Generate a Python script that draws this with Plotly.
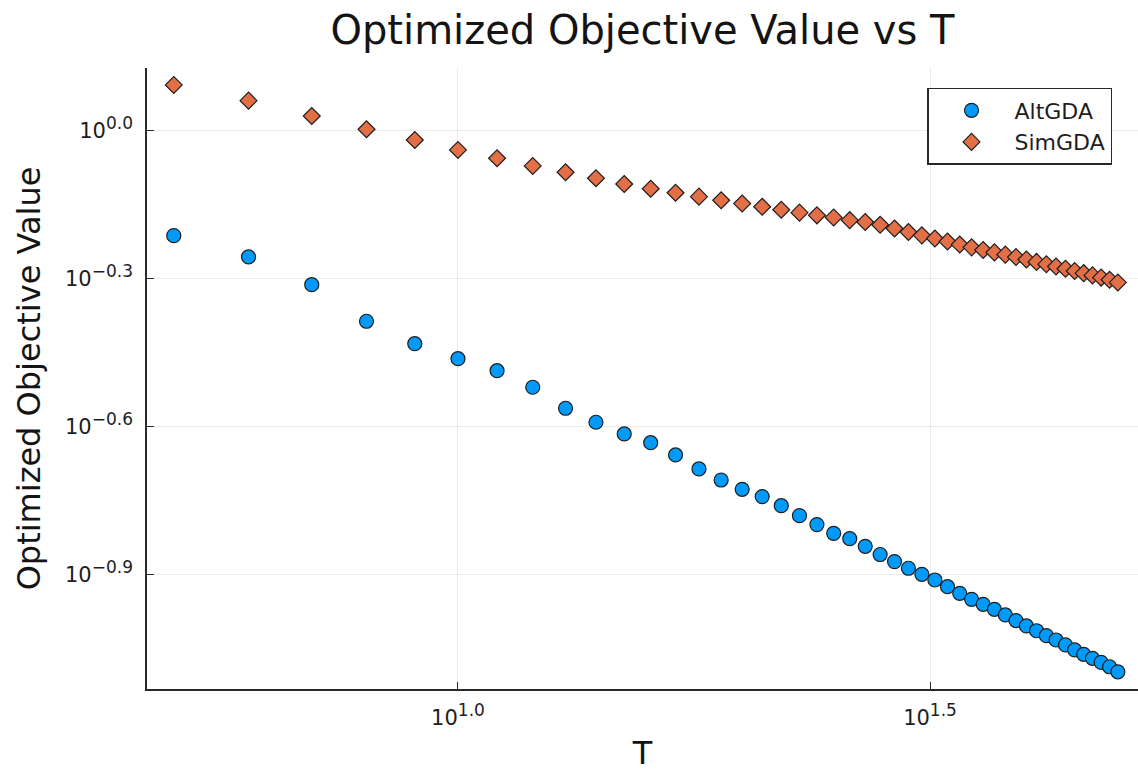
import plotly.graph_objects as go

T_values = list(range(5, 51))

altgda = [0.6126, 0.5546, 0.4873, 0.4108, 0.3700, 0.3450, 0.3262, 0.3019, 0.2737, 0.2564,
          0.2428, 0.2331, 0.2201, 0.2062, 0.1958, 0.1875, 0.1812, 0.1737, 0.1658, 0.1590,
          0.1527, 0.1489, 0.1437, 0.1383, 0.1338, 0.1297, 0.1261, 0.1228, 0.1190, 0.1154,
          0.1122, 0.1096, 0.1071, 0.1043, 0.1016, 0.0991, 0.0969, 0.0947, 0.0928, 0.0907,
          0.0886, 0.0868, 0.0852, 0.0836, 0.0819, 0.0800]

simgda = [1.2378, 1.1503, 1.0710, 1.0066, 0.9575, 0.9139, 0.8791, 0.8481, 0.8235, 0.8008,
          0.7797, 0.7624, 0.7483, 0.7349, 0.7226, 0.7116, 0.7010, 0.6913, 0.6820, 0.6735,
          0.6669, 0.6585, 0.6530, 0.6445, 0.6335, 0.6232, 0.6134, 0.6046, 0.5959, 0.5876,
          0.5800, 0.5730, 0.5666, 0.5606, 0.5543, 0.5481, 0.5420, 0.5362, 0.5305, 0.5249,
          0.5195, 0.5142, 0.5089, 0.5037, 0.4986, 0.4924]

x_tick_vals = [10 ** 1.0, 10 ** 1.5]
x_tick_exps = ["1.0", "1.5"]
y_tick_vals = [10 ** 0.0, 10 ** -0.3, 10 ** -0.6, 10 ** -0.9]
y_tick_exps = ["0.0", "\u22120.3", "\u22120.6", "\u22120.9"]


def power_label(exp):
    return "10<sup><span style='font-size:17px'>" + exp + "</span></sup>"


FONT = "DejaVu Sans"

fig = go.Figure()
fig.add_trace(go.Scatter(
    x=T_values, y=altgda, mode="markers", name="AltGDA",
    marker=dict(symbol="circle", size=14, color="rgb(0,154,250)",
                line=dict(color="rgb(30,30,30)", width=1.2)),
))
fig.add_trace(go.Scatter(
    x=T_values, y=simgda, mode="markers", name="SimGDA",
    marker=dict(symbol="diamond", size=13, color="rgb(227,111,71)",
                line=dict(color="rgb(30,30,30)", width=1.2)),
))

axis_common = dict(
    showline=True, linecolor="rgb(40,40,40)", linewidth=1.6,
    showgrid=True, gridcolor="rgba(0,0,0,0.08)", gridwidth=1,
    ticks="inside", ticklen=7, tickwidth=1.4, tickcolor="rgb(40,40,40)",
    zeroline=False, mirror=False, automargin=False,
    tickfont=dict(family=FONT, size=21, color="rgb(30,30,30)"),
)

fig.update_xaxes(
    type="log", range=[0.6706, 1.7203],
    tickmode="array", tickvals=x_tick_vals, ticktext=[power_label(e) for e in x_tick_exps],
    title=dict(text="T", font=dict(family=FONT, size=32, color="rgb(20,20,20)"), standoff=25),
    ticklabelstandoff=9,
    **axis_common,
)
fig.update_yaxes(
    type="log", range=[-1.1318, 0.127],
    tickmode="array", tickvals=y_tick_vals, ticktext=[power_label(e) for e in y_tick_exps],
    title=dict(text="Optimized Objective Value", font=dict(family=FONT, size=32, color="rgb(20,20,20)"), standoff=15),
    ticklabelstandoff=8,
    **axis_common,
)

fig.update_layout(
    width=1138, height=772,
    margin=dict(l=147, r=0, t=68, b=83),
    paper_bgcolor="white", plot_bgcolor="white",
    title=dict(text="Optimized Objective Value vs T", x=0.5, xref="paper", xanchor="center",
               y=1 - 30 / 772, yref="container", yanchor="middle",
               font=dict(family=FONT, size=40, color="rgb(20,20,20)")),
    legend=dict(x=0.9738, y=0.9678, xanchor="right", yanchor="top",
                bgcolor="white", bordercolor="rgb(40,40,40)", borderwidth=1.5,
                font=dict(family=FONT, size=22, color="rgb(30,30,30)"),
                tracegroupgap=0, itemsizing="trace", itemwidth=76),
    showlegend=True,
)

fig.write_html("out.html")
